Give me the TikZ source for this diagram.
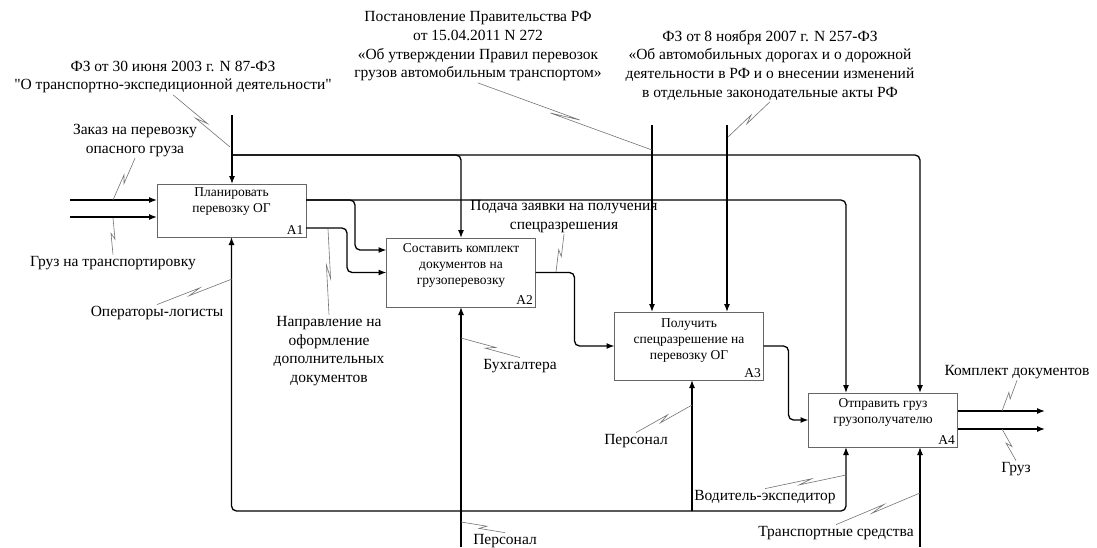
\documentclass[tikz,border=0pt]{standalone}
\usepackage{fontspec}
\setmainfont{Liberation Serif}[Ligatures=TeXOff]
\usetikzlibrary{arrows.meta,calc,positioning}

\begin{document}
\begin{tikzpicture}[x=1pt,y=-1pt,->,>={Latex[length=8pt,width=6pt]},line width=1.3pt,
    func/.style={draw=black!60,line width=0.8pt,fill=white,minimum width=149pt,
      inner sep=0pt,outer sep=0pt},
    functext/.style={align=center,font=\fontsize{13.5}{16}\selectfont,inner sep=1pt},
    funcnum/.style={anchor=south east,font=\fontsize{13.5}{16}\selectfont,inner sep=2pt},
    lbl/.style={align=center,font=\fontsize{15.5}{18.7}\selectfont,inner sep=1pt},
    leader/.style={-,draw=black!55,line width=0.6pt,
      to path={-- ($(\tikztostart)!0.58!(\tikztotarget)!2pt!90:(\tikztotarget)$)
        -- ($(\tikztostart)!0.42!(\tikztotarget)!2pt!-90:(\tikztotarget)$)
        -- (\tikztotarget)}}]
  \useasboundingbox (0,0) rectangle (1097,547);

  % functions
  \node[func,minimum height=53pt] (a1) at (231.5,210.5) {};
  \node[func,minimum height=69pt] (a2) at (461,272.5) {};
  \node[func,minimum height=68pt] (a3) at (689,346) {};
  \node[func,minimum height=54pt] (a4) at (883,420) {};
  \node[functext,below=2pt of a1.north] (a1t) {Планировать\\перевозку ОГ};
  \node[functext,below=4pt of a2.north] (a2t) {Составить комплект\\документов на\\грузоперевозку};
  \node[functext,below=5pt of a3.north] (a3t) {Получить\\спецразрешение на\\перевозку ОГ};
  \node[functext,below=4pt of a4.north] (a4t) {Отправить груз\\грузополучателю};
  \node[funcnum] (a1n) at (a1.south east) {A1};
  \node[funcnum] (a2n) at (a2.south east) {A2};
  \node[funcnum] (a3n) at (a3.south east) {A3};
  \node[funcnum] (a4n) at (a4.south east) {A4};

  % free ends
  \coordinate (zakaz) at (70,200);
  \coordinate (gruzin) at (70,217);
  \coordinate (fz87) at (232,115);
  \coordinate (fz87j) at (232,155);
  \coordinate (pp272) at (652,125);
  \coordinate (fz257) at (727,125);
  \coordinate (outdoc) at (1045,411);
  \coordinate (outgruz) at (1045,429);
  \coordinate (mj) at (692,511);
  \coordinate (buh) at (461,547);
  \coordinate (transp) at (920,547);

  % arrows
  \draw (zakaz) -- (zakaz -| a1.west);
  \draw (gruzin) -- (gruzin -| a1.west);
  \draw (fz87) -- (fz87 |- a1.north);
  \draw[rounded corners=5] (fz87j) -| ([xshift=37pt]a4.north);
  \draw[rounded corners=5] (fz87j) -| (a2.north);
  \draw (pp272) -- (pp272 |- a3.north);
  \draw (fz257) -- (fz257 |- a3.north);
  \draw[rounded corners=5] ([yshift=10.5pt]a1.east) -| ([xshift=-37pt]a4.north);
  \draw[rounded corners=5] ([yshift=10.5pt]a1.east) -- ++(49,0) |- ([yshift=22.5pt]a2.west);
  \draw[rounded corners=5] ([yshift=-17.5pt]a1.east) -- ++(41,0) |- (a2.west);
  \draw[rounded corners=5] (a2.east) -- ++(39,0) |- (a3.west);
  \draw[rounded corners=5] (a3.east) -- ++(25,0) |- (a4.west);
  \draw (outdoc -| a4.east) -- (outdoc);
  \draw (outgruz -| a4.east) -- (outgruz);
  \draw[rounded corners=5] (mj) -| (a1.south);
  \draw[rounded corners=5] (mj) -| ([xshift=-37pt]a4.south);
  \draw (mj) -- (mj |- a3.south);
  \draw (buh) -- (a2.south);
  \draw (transp) -- (transp |- a4.south);

  % labels
  \node[lbl] (tfz87) at (173,77) {ФЗ от 30 июня 2003 г. N 87-ФЗ\\"О транспортно-экспедиционной деятельности"};
  \node[lbl] (tpp272) at (478,46.5) {Постановление Правительства РФ\\от 15.04.2011 N 272\\«Об утверждении Правил перевозок\\грузов автомобильным транспортом»};
  \node[lbl] (tfz257) at (770,65) {ФЗ от 8 ноября 2007 г. N 257-ФЗ\\«Об автомобильных дорогах и о дорожной\\деятельности в РФ и о внесении изменений\\в отдельные законодательные акты РФ};
  \node[lbl] (tzakaz) at (135,140.5) {Заказ на перевозку\\опасного груза};
  \node[lbl] (tgruzin) at (113,263) {Груз на транспортировку};
  \node[lbl] (toper) at (157,313) {Операторы-логисты};
  \node[lbl] (tnapr) at (329,351) {Направление на\\оформление\\дополнительных\\документов};
  \node[lbl] (tpodacha) at (564,216.5) {Подача заявки на получения\\спецразрешения};
  \node[lbl] (tbuh) at (520,366) {Бухгалтера};
  \node[lbl] (tpers3) at (636,441) {Персонал};
  \node[lbl] (tpers2) at (505,541) {Персонал};
  \node[lbl] (tvod) at (765,497) {Водитель-экспедитор};
  \node[lbl] (ttransp) at (836,533) {Транспортные средства};
  \node[lbl] (tkompl) at (1017,372) {Комплект документов};
  \node[lbl] (tgruzout) at (1016,469) {Груз};

  % leaders
  \coordinate (lfz87) at (230,147);
  \coordinate (lpp272) at (652,150);
  \coordinate (lfz257) at (728,137);
  \coordinate (lzakaz) at (113,200);
  \coordinate (lgruzin) at (113,218);
  \coordinate (loper) at (232,279);
  \coordinate (lnapr) at (328,229);
  \coordinate (lpodacha) at (556,272);
  \coordinate (lbuh) at (461,338);
  \coordinate (lpers3) at (692,405);
  \coordinate (lpers2) at (461,522);
  \coordinate (lvod) at (846,475);
  \coordinate (ltransp) at (920,493);
  \coordinate (lkompl) at (1002,411);
  \coordinate (lgruzout) at (1002,429);
  \draw[leader] (tfz87.south) to (lfz87);
  \draw[leader] (tpp272.south) to (lpp272);
  \draw[leader] (tfz257.south) to (lfz257);
  \draw[leader] (tzakaz.south) to (lzakaz);
  \draw[leader] (tgruzin.north) to (lgruzin);
  \draw[leader] (toper.north) to (loper);
  \draw[leader] (tnapr.north) to (lnapr);
  \draw[leader] (tpodacha.south) to (lpodacha);
  \draw[leader] (tbuh.north) to (lbuh);
  \draw[leader] (tpers3.north) to (lpers3);
  \draw[leader] (tpers2.north) to (lpers2);
  \draw[leader] (tvod.north) to (lvod);
  \draw[leader] (ttransp.north) to (ltransp);
  \draw[leader] (tkompl.south) to (lkompl);
  \draw[leader] (tgruzout.north) to (lgruzout);
\end{tikzpicture}
\end{document}
